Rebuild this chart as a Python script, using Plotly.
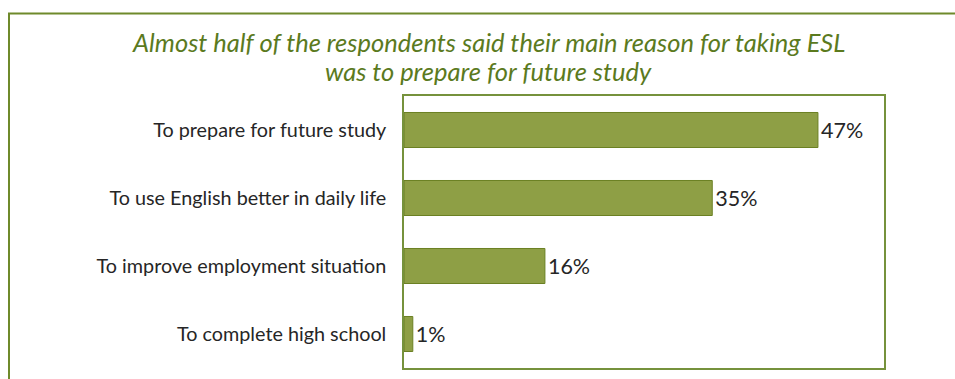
import plotly.graph_objects as go

# Survey responses: main reason for taking ESL
reasons = [
    "To prepare for future study",
    "To use English better in daily life",
    "To improve employment situation",
    "To complete high school",
]
shares = [47, 35, 16, 1]
share_labels = [f"{v}%" for v in shares]

title_lines = [
    "Almost half of the respondents said their main reason for taking ESL",
    "was to prepare for future study",
]

W, H = 955, 379
L, R, T, B = 404, 71, 96, 11
PW, PH = W - L - R, H - T - B


def px(x):
    return (x - L) / PW


def py(y):
    return (H - B - y) / PH


olive = "#76923c"
fig = go.Figure(
    go.Bar(
        x=shares,
        y=reasons,
        orientation="h",
        text=share_labels,
        textposition="outside",
        textfont=dict(family="Lato", size=21.5, color="#262626"),
        marker=dict(color="#8e9f45", line=dict(color="#6b8023", width=1)),
        cliponaxis=False,
        width=0.515,
    )
)

fig.update_layout(
    width=W,
    height=H,
    margin=dict(l=L, r=R, t=T, b=B, pad=0),
    paper_bgcolor="white",
    plot_bgcolor="white",
    showlegend=False,
    xaxis=dict(
        range=[0, 54.5],
        showgrid=False,
        zeroline=False,
        showticklabels=False,
        showline=True,
        mirror=True,
        linecolor=olive,
        linewidth=1.5,
        fixedrange=True,
    ),
    yaxis=dict(
        autorange="reversed",
        showgrid=False,
        showline=True,
        mirror=True,
        linecolor=olive,
        linewidth=1.5,
        ticks="",
        ticklabelstandoff=12,
        tickfont=dict(family="Lato", size=19.8, color="#262626"),
        fixedrange=True,
    ),
    shapes=[
        dict(
            type="rect",
            xref="paper",
            yref="paper",
            x0=px(9),
            x1=px(W + 20),
            y0=py(H + 20),
            y1=py(13.5),
            line=dict(color="#6f8a2b", width=2),
            fillcolor="rgba(0,0,0,0)",
            layer="below",
        )
    ],
)

# two title lines placed separately for tight line spacing
for line, bottom in zip(title_lines, [59, 88]):
    fig.add_annotation(
        text=f"<i>{line}</i>",
        xref="paper",
        yref="paper",
        x=px(488),
        y=py(bottom),
        xanchor="center",
        yanchor="bottom",
        showarrow=False,
        font=dict(family="Lato", size=25.5, color="#5b7a1e"),
    )

fig.write_html("out.html")
